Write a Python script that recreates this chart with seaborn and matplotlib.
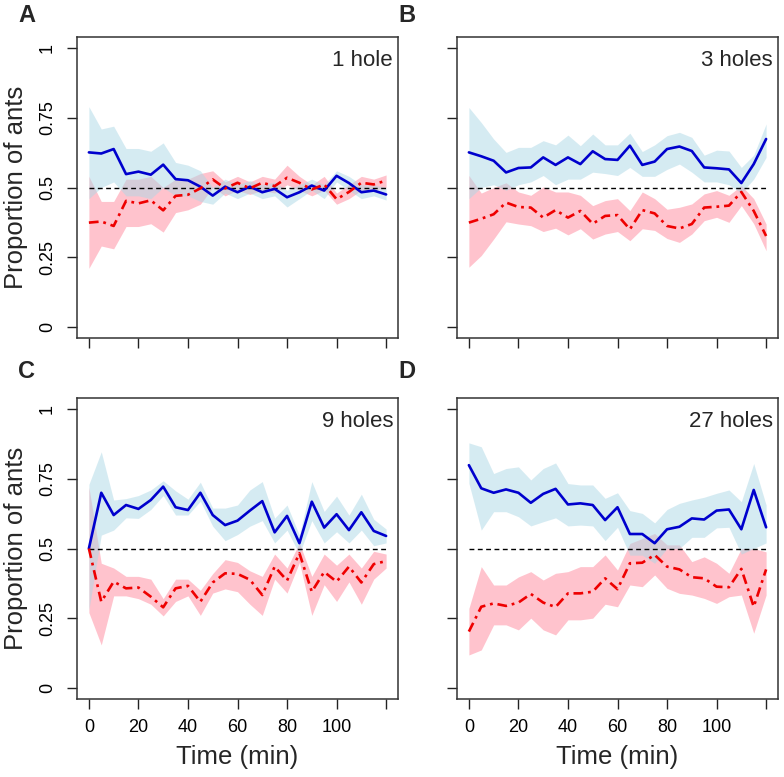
import matplotlib
matplotlib.use("Agg")
import matplotlib.pyplot as plt
import numpy as np
import pandas as pd
import seaborn as sns

# ---------------- data ----------------
time = [0, 5, 10, 15, 20, 25, 30, 35, 40, 45, 50, 55, 60, 65, 70, 75, 80, 85, 90, 95, 100, 105, 110, 115, 120]

panel_letters = ["A", "B", "C", "D"]
panel_titles = ["1 hole", "3 holes", "9 holes", "27 holes"]
x_ticks = [0, 20, 40, 60, 80, 100, 120]
x_tick_labels = ["0", "20", "40", "60", "80", "100", ""]
y_ticks = [0, 0.25, 0.5, 0.75, 1]
y_tick_labels = ["0", "0.25", "0.5", "0.75", "1"]

# Panel A (1 hole)
blue_A = [0.626, 0.622, 0.638, 0.548, 0.557, 0.546, 0.582, 0.530, 0.526, 0.503, 0.471, 0.503, 0.483,
          0.503, 0.483, 0.495, 0.465, 0.483, 0.507, 0.489, 0.542, 0.516, 0.483, 0.489, 0.475]
blue_A_lo = [0.46, 0.50, 0.52, 0.47, 0.47, 0.46, 0.50, 0.47, 0.47, 0.45, 0.44, 0.48, 0.46,
             0.48, 0.46, 0.47, 0.43, 0.46, 0.49, 0.46, 0.52, 0.49, 0.46, 0.47, 0.455]
blue_A_hi = [0.79, 0.71, 0.72, 0.64, 0.64, 0.63, 0.66, 0.59, 0.58, 0.56, 0.50, 0.53, 0.51,
             0.525, 0.51, 0.52, 0.49, 0.51, 0.53, 0.51, 0.56, 0.54, 0.51, 0.51, 0.50]
red_A = [0.374, 0.378, 0.362, 0.452, 0.443, 0.454, 0.418, 0.470, 0.474, 0.497, 0.529, 0.497, 0.517,
         0.497, 0.517, 0.505, 0.535, 0.517, 0.493, 0.511, 0.458, 0.484, 0.517, 0.511, 0.525]
red_A_lo = [0.21, 0.29, 0.28, 0.36, 0.36, 0.37, 0.34, 0.41, 0.42, 0.44, 0.50, 0.47, 0.49,
            0.475, 0.49, 0.48, 0.51, 0.49, 0.47, 0.49, 0.44, 0.46, 0.49, 0.49, 0.50]
red_A_hi = [0.54, 0.45, 0.45, 0.53, 0.53, 0.54, 0.50, 0.53, 0.53, 0.55, 0.56, 0.52, 0.54,
            0.52, 0.54, 0.53, 0.58, 0.54, 0.51, 0.54, 0.48, 0.51, 0.54, 0.53, 0.545]

# Panel B (3 holes)
blue_B = [0.626, 0.612, 0.596, 0.554, 0.570, 0.572, 0.608, 0.581, 0.608, 0.584, 0.630, 0.602, 0.599,
          0.650, 0.581, 0.593, 0.638, 0.647, 0.631, 0.572, 0.569, 0.565, 0.516, 0.584, 0.674]
blue_B_lo = [0.46, 0.50, 0.51, 0.49, 0.51, 0.52, 0.543, 0.51, 0.53, 0.53, 0.555, 0.55, 0.543,
             0.572, 0.54, 0.54, 0.565, 0.584, 0.555, 0.52, 0.52, 0.51, 0.48, 0.53, 0.608]
blue_B_hi = [0.787, 0.733, 0.674, 0.626, 0.644, 0.644, 0.668, 0.653, 0.688, 0.650, 0.692, 0.653, 0.653,
             0.695, 0.629, 0.653, 0.686, 0.698, 0.680, 0.616, 0.634, 0.631, 0.572, 0.616, 0.728]
red_B = [0.374, 0.388, 0.404, 0.446, 0.430, 0.428, 0.392, 0.419, 0.392, 0.416, 0.370, 0.398, 0.401,
         0.350, 0.419, 0.407, 0.362, 0.353, 0.369, 0.428, 0.431, 0.435, 0.484, 0.416, 0.326]
red_B_lo = [0.214, 0.256, 0.315, 0.377, 0.369, 0.363, 0.342, 0.354, 0.330, 0.352, 0.315, 0.333, 0.342,
            0.309, 0.352, 0.346, 0.317, 0.303, 0.333, 0.381, 0.393, 0.375, 0.435, 0.37, 0.273]
red_B_hi = [0.543, 0.48, 0.50, 0.517, 0.484, 0.472, 0.502, 0.484, 0.484, 0.472, 0.435, 0.453, 0.460,
            0.417, 0.484, 0.460, 0.422, 0.429, 0.441, 0.477, 0.489, 0.472, 0.507, 0.46, 0.369]

# Panel C (9 holes)
blue_C = [0.500, 0.700, 0.620, 0.656, 0.642, 0.674, 0.722, 0.648, 0.638, 0.700, 0.620, 0.584, 0.600,
          0.636, 0.670, 0.558, 0.617, 0.519, 0.668, 0.575, 0.623, 0.566, 0.630, 0.563, 0.545]
blue_C_lo = [0.28, 0.548, 0.566, 0.61, 0.608, 0.64, 0.69, 0.62, 0.62, 0.67, 0.58, 0.528, 0.55,
             0.58, 0.60, 0.52, 0.566, 0.48, 0.60, 0.52, 0.56, 0.52, 0.566, 0.51, 0.52]
blue_C_hi = [0.73, 0.847, 0.674, 0.679, 0.690, 0.710, 0.743, 0.707, 0.677, 0.738, 0.645, 0.645, 0.656,
             0.710, 0.740, 0.609, 0.656, 0.548, 0.740, 0.633, 0.688, 0.620, 0.695, 0.605, 0.57]
red_C = [0.500, 0.309, 0.381, 0.357, 0.360, 0.327, 0.289, 0.357, 0.366, 0.309, 0.378, 0.411, 0.409,
         0.388, 0.333, 0.435, 0.385, 0.483, 0.345, 0.416, 0.381, 0.435, 0.378, 0.444, 0.455]
red_C_lo = [0.27, 0.154, 0.33, 0.33, 0.32, 0.30, 0.258, 0.31, 0.33, 0.26, 0.34, 0.355, 0.345,
            0.30, 0.26, 0.39, 0.34, 0.45, 0.26, 0.37, 0.31, 0.38, 0.30, 0.39, 0.43]
red_C_hi = [0.72, 0.447, 0.43, 0.40, 0.40, 0.39, 0.32, 0.39, 0.39, 0.35, 0.41, 0.46, 0.45,
            0.42, 0.40, 0.48, 0.43, 0.52, 0.40, 0.48, 0.44, 0.48, 0.43, 0.49, 0.48]

# Panel D (27 holes)
blue_D = [0.799, 0.716, 0.700, 0.712, 0.700, 0.664, 0.696, 0.714, 0.658, 0.662, 0.656, 0.602, 0.648,
          0.552, 0.552, 0.519, 0.569, 0.578, 0.608, 0.604, 0.636, 0.640, 0.569, 0.710, 0.576]
blue_D_lo = [0.734, 0.566, 0.632, 0.632, 0.614, 0.581, 0.596, 0.610, 0.581, 0.584, 0.581, 0.528, 0.576,
             0.476, 0.476, 0.447, 0.500, 0.500, 0.540, 0.540, 0.574, 0.576, 0.480, 0.500, 0.520]
blue_D_hi = [0.879, 0.865, 0.769, 0.787, 0.793, 0.746, 0.787, 0.807, 0.733, 0.728, 0.728, 0.680, 0.700,
             0.636, 0.626, 0.592, 0.640, 0.662, 0.674, 0.684, 0.698, 0.710, 0.668, 0.805, 0.656]
red_D = [0.202, 0.291, 0.303, 0.294, 0.306, 0.337, 0.306, 0.290, 0.339, 0.339, 0.345, 0.393, 0.354,
         0.447, 0.449, 0.477, 0.435, 0.425, 0.397, 0.393, 0.363, 0.361, 0.427, 0.291, 0.425]
red_D_lo = [0.118, 0.136, 0.226, 0.226, 0.208, 0.250, 0.208, 0.190, 0.244, 0.244, 0.250, 0.300, 0.291,
            0.369, 0.363, 0.405, 0.357, 0.339, 0.333, 0.321, 0.303, 0.327, 0.333, 0.196, 0.333]
red_D_hi = [0.285, 0.435, 0.369, 0.369, 0.398, 0.417, 0.387, 0.411, 0.417, 0.435, 0.435, 0.477, 0.423,
            0.518, 0.536, 0.554, 0.513, 0.513, 0.453, 0.470, 0.447, 0.411, 0.500, 0.500, 0.488]

blue_means = [blue_A, blue_B, blue_C, blue_D]
blue_los = [blue_A_lo, blue_B_lo, blue_C_lo, blue_D_lo]
blue_his = [blue_A_hi, blue_B_hi, blue_C_hi, blue_D_hi]
red_means = [red_A, red_B, red_C, red_D]
red_los = [red_A_lo, red_B_lo, red_C_lo, red_D_lo]
red_his = [red_A_hi, red_B_hi, red_C_hi, red_D_hi]

# ---------------- style ----------------
sns.set_style("ticks")
plt.rcParams["font.family"] = ["Liberation Sans", "DejaVu Sans"]
plt.rcParams["lines.scale_dashes"] = False

W, H = 784, 777
fig = plt.figure(figsize=(W / 100, H / 100), dpi=100)

# axes frames in pixels: (left, top)
frames = [(77, 37), (457, 37), (77, 398), (457, 398)]
AW, AH = 321, 301

BLUE = "#0000CD"
RED = "#EE0000"
BLUE_BAND = "#ADD8E6"
RED_BAND = "#FFC0CB"

for i in range(4):
    l, t = frames[i]
    ax = fig.add_axes([l / W, 1 - (t + AH) / H, AW / W, AH / H])
    df = pd.DataFrame({"time": time, "blue": blue_means[i], "red": red_means[i]})

    ax.fill_between(time, red_los[i], red_his[i], color=RED_BAND, alpha=0.95, lw=0, zorder=1)
    ax.fill_between(time, blue_los[i], blue_his[i], color=BLUE_BAND, alpha=0.5, lw=0, zorder=2)
    ax.plot([time[0], time[-1]], [0.5, 0.5], color="black", lw=1.0,
            linestyle=(0, (3.5, 2.5)), zorder=3)
    sns.lineplot(data=df, x="time", y="blue", ax=ax, color=BLUE, lw=1.9, zorder=4)
    sns.lineplot(data=df, x="time", y="red", ax=ax, color=RED, lw=1.9,
                 linestyle=(0, (7, 3.5, 2, 3.5)), zorder=5)

    ax.set_xlim(-4.8, 124.8)
    ax.set_ylim(-0.04, 1.04)
    ax.set_xlabel("")
    ax.set_ylabel("")
    ax.set_xticks(x_ticks)
    ax.set_yticks(y_ticks)
    if i >= 2:
        ax.set_xticklabels(x_tick_labels)
    else:
        ax.set_xticklabels([""] * len(x_ticks))
    if i % 2 == 0:
        ax.set_yticklabels(y_tick_labels, rotation=90, va="center")
    else:
        ax.set_yticklabels([""] * len(y_ticks))
    ax.tick_params(axis="both", direction="out", length=7.2, width=1.0,
                   color="#222222", labelsize=13, labelcolor="black")
    ax.tick_params(axis="x", pad=7)
    ax.tick_params(axis="y", pad=8)
    for sp in ax.spines.values():
        sp.set_visible(True)
        sp.set_color("#333333")
        sp.set_linewidth(1.1)
    ax.grid(False)

    # panel title inside (top right)
    fig.text((l + AW - 5) / W, 1 - (t + 29) / H, panel_titles[i],
             ha="right", va="baseline", fontsize=16)
    # panel letter
    fig.text((l - 50) / W, 1 - (t - 22 if i < 2 else t - 26) / H, panel_letters[i],
             ha="center", va="center", fontsize=17, fontweight="bold")

# axis labels
for t in (37, 398):
    fig.text(16 / W, 1 - (t + AH / 2) / H, "Proportion of ants", rotation=90,
             ha="center", va="center", fontsize=18.5)
for l in (77, 457):
    fig.text((l + AW / 2) / W, 1 - 757 / H, "Time (min)",
             ha="center", va="center", fontsize=18.5)

fig.savefig("out.png", dpi=100)
